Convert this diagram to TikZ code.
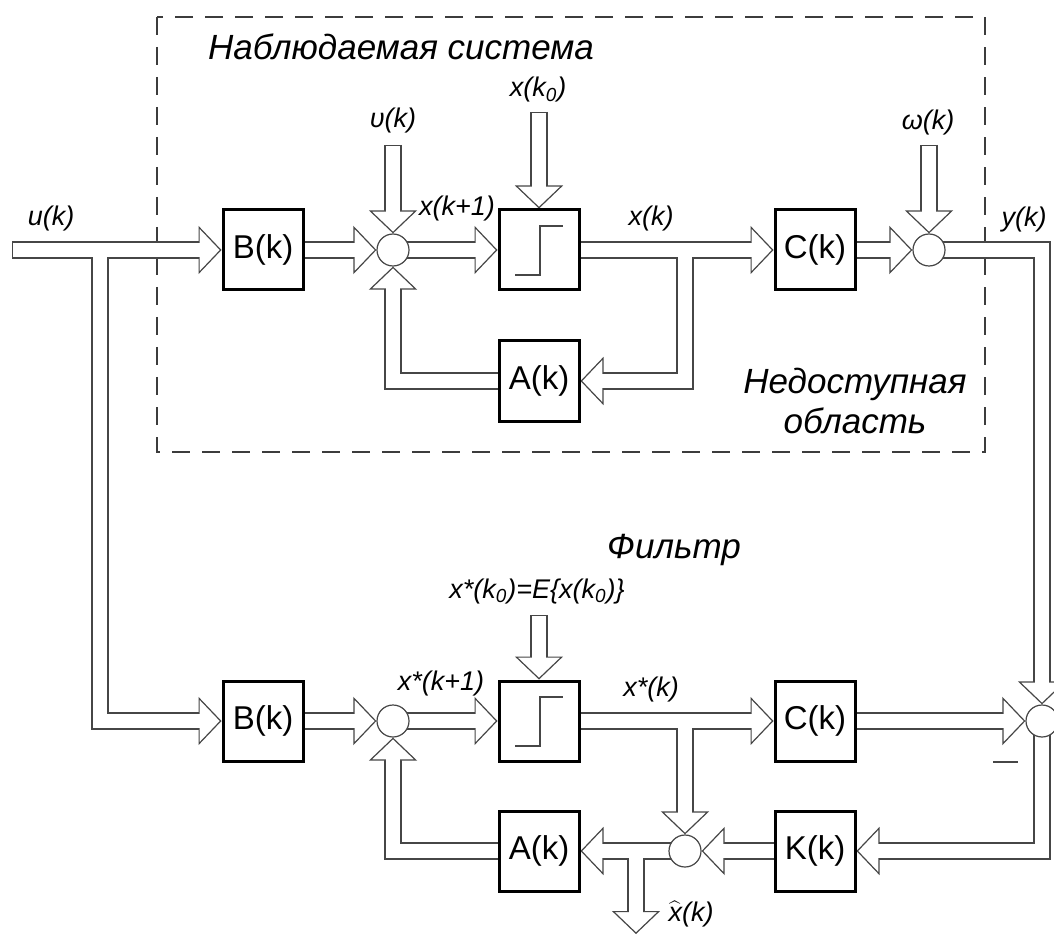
\documentclass[tikz,border=0pt]{standalone}
\usepackage{fontspec}
\setmainfont{Liberation Sans}
\usetikzlibrary{arrows.meta, calc}
\definecolor{pipegray}{RGB}{70,70,70}
\definecolor{dashgray}{RGB}{60,60,60}
\pgfdeclarelayer{pipeback}
\pgfdeclarelayer{pipefront}
\pgfsetlayers{pipeback,pipefront,main}
\tikzset{
  blk/.style={draw, line width=1.5pt, fill=white, minimum width=40pt, minimum height=40pt,
    inner sep=0pt, font=\fontsize{16.5}{18}\selectfont},
  sum/.style={draw=pipegray, line width=0.6pt, fill=white, circle, minimum size=16pt, inner sep=0pt},
  sig/.style={font=\fontsize{13.5}{15}\selectfont\itshape, inner sep=0pt, anchor=base},
  title/.style={font=\fontsize{17.5}{20}\selectfont\itshape, inner sep=0pt, align=center},
  pipeout/.style={draw=pipegray, line width=8.6pt,
    -{Triangle[length=11.5pt, width=24pt, line width=0.6pt, fill=white]}},
  pipein/.style={draw=white, line width=7.4pt, shorten <=0.6pt, shorten >=10.5pt},
  stepline/.style={draw=pipegray, line width=0.6pt},
  region/.style={draw=dashgray, line width=0.7pt, dash pattern=on 9pt off 6pt},
}
% wide hollow signal line: grey edges underneath, white core on top
\newcommand{\pipe}[1]{%
  \begin{pgfonlayer}{pipeback}\draw[pipeout] #1;\end{pgfonlayer}%
  \begin{pgfonlayer}{pipefront}\draw[pipein] #1;\end{pgfonlayer}}

\begin{document}
\begin{tikzpicture}[x=0.5pt, y=-0.5pt]
  \useasboundingbox (0,0) rectangle (1054,935);

  % observed system
  \node[blk] (B1) at (263,250) {B(k)};
  \node[sum] (S1) at (393,250) {};
  \node[blk] (I1) at (539,250) {};
  \node[blk] (C1) at (815,250) {C(k)};
  \node[sum] (S2) at (929,250) {};
  \node[blk] (A1) at (539,381) {A(k)};

  % filter
  \node[blk] (B2) at (263,721) {B(k)};
  \node[sum] (S3) at (393,721) {};
  \node[blk] (I2) at (539,721) {};
  \node[blk] (C2) at (815,721) {C(k)};
  \node[sum] (S4) at (1042,721) {};
  \node[blk] (A2) at (539,851) {A(k)};
  \node[sum] (S5) at (685,851) {};
  \node[blk] (K) at (815,851) {K(k)};

  \foreach \n in {I1,I2}
    \draw[stepline] ([shift={(-24,25)}]\n.center) -- ++(25,0) -- ++(0,-49) -- ++(23,0);
  \draw[stepline] ([shift={(-49,41)}]S4.center) -- ++(25,0);

  % free ends and branch points
  \coordinate (u) at (12,250);
  \coordinate (v) at (393,145);
  \coordinate (x0) at (539,112);
  \coordinate (w) at (929,145);
  \coordinate (xs0) at (539,615);
  \coordinate (xh) at (636,934);
  \coordinate (j0) at (100,250);
  \coordinate (j1) at (685,250);
  \coordinate (j2) at (685,721);
  \coordinate (j3) at (636,851);

  \begin{pgfonlayer}{pipeback}
    \draw[region] (157,17) rectangle (985,452);
  \end{pgfonlayer}

  \pipe{(u) -- (B1)}
  \pipe{(j0) |- (B2)}
  \pipe{(B1.center) -- (S1)}
  \pipe{(v) -- (S1)}
  \pipe{(S1.center) -- (I1)}
  \pipe{(x0) -- (I1)}
  \pipe{(I1.center) -- (C1)}
  \pipe{(j1) |- (A1)}
  \pipe{(A1.center) -| (S1)}
  \pipe{(C1.center) -- (S2)}
  \pipe{(w) -- (S2)}
  \pipe{(S2.center) -| (S4)}
  \pipe{(B2.center) -- (S3)}
  \pipe{(S3.center) -- (I2)}
  \pipe{(xs0) -- (I2)}
  \pipe{(I2.center) -- (C2)}
  \pipe{(C2.center) -- (S4)}
  \pipe{(j2) -- (S5)}
  \pipe{(S4.center) |- (K)}
  \pipe{(K.center) -- (S5)}
  \pipe{(S5.center) -- (A2)}
  \pipe{(j3) -- (xh)}
  \pipe{(A2.center) -| (S3)}

  % labels
  \node[sig] (lu) at (51,226) {u(k)};
  \node[sig] (lv) at (393,128) {υ(k)};
  \node[sig] (lx0) at (538,97) {x(k\textsubscript{0})};
  \node[sig] (lx1) at (457,216) {x(k+1)};
  \node[sig] (lx) at (651,226) {x(k)};
  \node[sig] (lw) at (928,130) {ω(k)};
  \node[sig] (ly) at (1024,227) {y(k)};
  \node[sig] (lxs1) at (441,690) {x*(k+1)};
  \node[sig] (lxs0) at (537,598) {x*(k\textsubscript{0})=E\{x(k\textsubscript{0})\}};
  \node[sig] (lxs) at (651,696) {x*(k)};
  \node[sig] (lxh) at (691,921) {$\widehat{\mbox{\itshape x}}$(k)};

  \node[title, anchor=base] (tsys) at (401,60) {Наблюдаемая система};
  \node[title] (thid) at (855,401) {Недоступная\\область};
  \node[title, anchor=base] (tfil) at (674,558) {Фильтр};
\end{tikzpicture}
\end{document}
